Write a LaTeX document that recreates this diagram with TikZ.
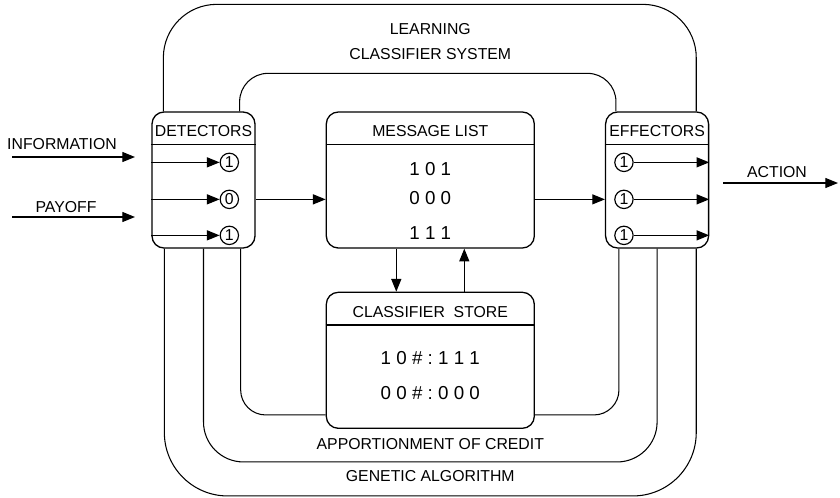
\documentclass[tikz,border=0pt]{standalone}
\usepackage{fontspec}
\setmainfont{Liberation Sans}
\usetikzlibrary{positioning, arrows.meta}
\newcommand{\gp}{\hspace{0.28em}}

\begin{document}
\begin{tikzpicture}[
x=0.03cm, y=-0.03cm,
every node/.style={font=\fontsize{13.5}{16}\selectfont},
box/.style={draw, rounded corners=0.36cm, line width=1.1pt, minimum height=4.08cm, inner sep=0},
smallbox/.style={box, minimum width=3.09cm},
bigbox/.style={box, minimum width=6.24cm},
lbl/.style={inner sep=0},
bits/.style={inner sep=0, font=\fontsize{16}{18}\selectfont},
bit/.style={draw, circle, minimum size=0.55cm, inner sep=0, line width=1pt, font=\fontsize{13.5}{15}\selectfont},
arr/.style={-{Triangle[length=0.38cm, width=0.3cm]}, line width=1pt},
loop/.style={line width=0.9pt}
]
\useasboundingbox (0,0) rectangle (840,497);
% Boxes
\node[smallbox] (det) at (203.5,180) {};
\node[bigbox, right=2.1cm of det] (msg) {};
\node[smallbox, right=2.1cm of msg] (eff) {};
\node[bigbox, below=1.29cm of msg] (cls) {};
\foreach \b/\t in {det/DETECTORS, msg/MESSAGE LIST, eff/EFFECTORS, cls/CLASSIFIER\ \ STORE} {
  \node[lbl] (\b-h) at ([yshift=-0.6cm]\b.north) {\t};
  \draw[line width=1pt] ([yshift=-1cm]\b.north west) -- ([yshift=-1cm]\b.north east);
}
% Contents
\node[bits] (m1) at ([yshift=-1.74cm]msg.north) {1\gp0\gp1};
\node[bits] (m2) at ([yshift=-2.61cm]msg.north) {0\gp0\gp0};
\node[bits] (m3) at ([yshift=-3.66cm]msg.north) {1\gp1\gp1};
\node[bits] (c1) at ([yshift=-1.98cm]cls.north) {1\gp0\gp\#\gp:\gp1\gp1\gp1};
\node[bits] (c2) at ([yshift=-3.03cm]cls.north) {0\gp0\gp\#\gp:\gp0\gp0\gp0};
% Detector and effector bits
\foreach \v/\y [count=\i] in {1/1.53, 0/2.64, 1/3.72} {
  \node[bit] (d\i) at ([xshift=2.34cm, yshift=-\y cm]det.north west) {\v};
  \draw[arr] (det.west |- d\i) -- (d\i);
  \node[bit] (e\i) at ([xshift=0.57cm, yshift=-\y cm]eff.north west) {1};
  \draw[arr] (e\i) -- (eff.east |- e\i);
}
% Flow between boxes
\draw[arr] (det.east |- d2) -- (msg.west |- d2);
\draw[arr] (msg.east |- e2) -- (eff.west |- e2);
\draw[arr] ([xshift=-1.02cm]msg.south) -- ([xshift=-1.02cm]cls.north);
\draw[arr] ([xshift=1.02cm]cls.north) -- ([xshift=1.02cm]msg.south);
% Inputs and output
\node[lbl] (info) at (62,144) {INFORMATION};
\coordinate (info-s) at (12,157);
\coordinate (info-e) at (135,157);
\draw[arr] (info-s) -- (info-e);
\node[lbl] (pay) at (66,207.5) {PAYOFF};
\coordinate (pay-s) at (12,217);
\coordinate (pay-e) at (135,217);
\draw[arr] (pay-s) -- (pay-e);
\node[lbl] (act) at (777,172.5) {ACTION};
\coordinate (act-s) at (723,183);
\coordinate (act-e) at (838,183);
\draw[arr] (act-s) -- (act-e);
% Loops
\draw[loop, rounded corners=1.6cm] ([xshift=0.36cm]det.north west) -- ++(0,3.21cm) -| ([xshift=-0.39cm]eff.north east);
\draw[loop, rounded corners=0.85cm] ([xshift=-0.48cm]det.north east) -- ++(0,1.14cm) -| ([xshift=0.33cm]eff.north west);
\draw[loop, rounded corners=0.75cm] ([xshift=-0.45cm]det.south east) |- ([yshift=0.42cm]cls.south west);
\draw[loop, rounded corners=0.75cm] ([yshift=0.42cm]cls.south east) -| ([xshift=0.42cm]eff.south west);
\draw[loop, rounded corners=1.2cm] (det.south) |- ([yshift=-0.99cm]cls.south) -| (eff.south);
\draw[loop, rounded corners=1.9cm] ([xshift=0.39cm]det.south west) |- ([yshift=-2.01cm]cls.south) -| ([xshift=-0.39cm]eff.south east);
% Loop labels
\node[lbl, above=1.53cm of msg] (lcs) {CLASSIFIER SYSTEM};
\node[lbl, above=0.4cm of lcs] (lrn) {LEARNING};
\node[lbl, below=0.27cm of cls] (apc) {APPORTIONMENT OF CREDIT};
\node[lbl, below=0.63cm of apc] (gen) {GENETIC ALGORITHM};
\end{tikzpicture}
\end{document}
